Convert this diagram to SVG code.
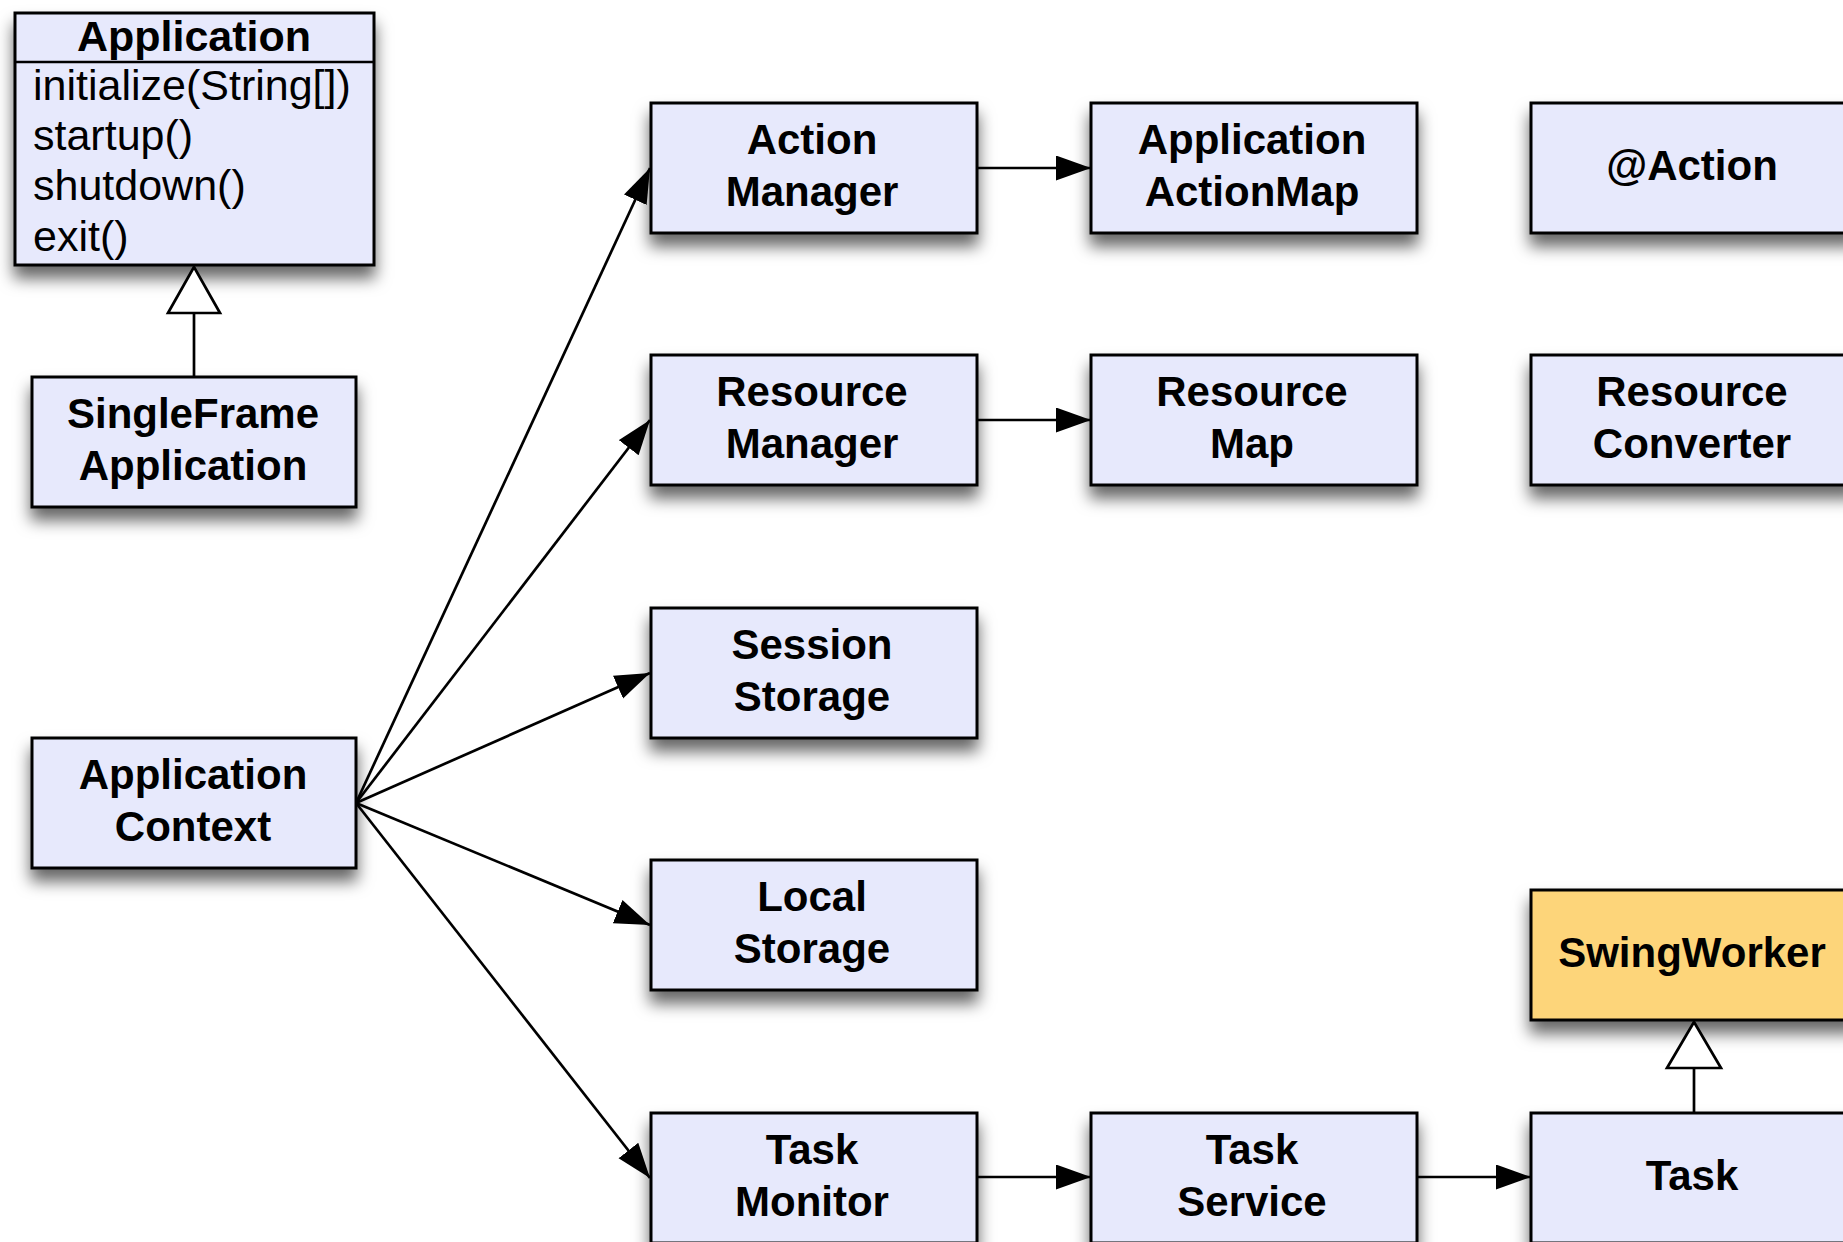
<svg xmlns="http://www.w3.org/2000/svg" width="1843" height="1242" viewBox="0 0 1843 1242">
  <defs>
    <filter id="shadow" x="-15%" y="-25%" width="130%" height="180%">
      <feDropShadow dx="0" dy="12" stdDeviation="8" flood-color="#000" flood-opacity="0.6"/>
    </filter>
    <marker id="arrow" markerUnits="userSpaceOnUse" markerWidth="36" markerHeight="26" refX="35" refY="12.5" orient="auto">
      <path d="M0,0 L35,12.5 L0,25 z" fill="#000"/>
    </marker>
  </defs>
  <style>
    .box { fill: #E7E9FC; stroke: #000; stroke-width: 3; filter: url(#shadow); }
    .ext { fill: #FDD57A; }
    .lbl { font-family: "Liberation Sans", Arial, Helvetica, sans-serif; font-size: 42px; font-weight: bold; text-anchor: middle; fill: #000; }
    .ttl { font-family: "Liberation Sans", Arial, Helvetica, sans-serif; font-size: 43px; font-weight: bold; text-anchor: middle; fill: #000; }
    .op { font-family: "Liberation Sans", Arial, Helvetica, sans-serif; font-size: 43px; fill: #000; }
    .edge { stroke: #000; stroke-width: 2.7; fill: none; marker-end: url(#arrow); }
    .gen { stroke: #000; stroke-width: 2.7; fill: none; }
    .tri { fill: #fff; stroke: #000; stroke-width: 2.7; }
  </style>
  <rect width="1843" height="1242" fill="#fff"/>

  <!-- connectors -->
  <g id="connectors">
    <line class="edge" x1="356" y1="803" x2="650" y2="168"/>
    <line class="edge" x1="356" y1="803" x2="650" y2="420"/>
    <line class="edge" x1="356" y1="803" x2="650" y2="673"/>
    <line class="edge" x1="356" y1="803" x2="650" y2="925"/>
    <line class="edge" x1="356" y1="803" x2="650" y2="1178"/>
    <line class="edge" x1="977" y1="168" x2="1091" y2="168"/>
    <line class="edge" x1="977" y1="420" x2="1091" y2="420"/>
    <line class="edge" x1="977" y1="1177" x2="1091" y2="1177"/>
    <line class="edge" x1="1417" y1="1177" x2="1531" y2="1177"/>
    <!-- generalization: SingleFrameApplication -> Application -->
    <line class="gen" x1="194" y1="313" x2="194" y2="377"/>
    <!-- generalization: Task -> SwingWorker -->
    <line class="gen" x1="1694" y1="1068" x2="1694" y2="1113"/>
  </g>

  <g id="Application">
    <rect class="box" x="15" y="13" width="359" height="252"/>
    <line x1="15" y1="62" x2="374" y2="62" stroke="#000" stroke-width="2.5"/>
    <text class="ttl" x="194" y="51">Application</text>
    <text class="op" x="33" y="100">initialize(String[])</text>
    <text class="op" x="33" y="150">startup()</text>
    <text class="op" x="33" y="200">shutdown()</text>
    <text class="op" x="33" y="251">exit()</text>
  </g>

  <g id="SingleFrameApplication">
    <rect class="box" x="32" y="377" width="324" height="130"/>
    <text class="lbl" x="193" y="428">SingleFrame</text>
    <text class="lbl" x="193" y="480">Application</text>
  </g>

  <g id="ApplicationContext">
    <rect class="box" x="32" y="738" width="324" height="130"/>
    <text class="lbl" x="193" y="789">Application</text>
    <text class="lbl" x="193" y="841">Context</text>
  </g>

  <g id="ActionManager">
    <rect class="box" x="651" y="103" width="326" height="130"/>
    <text class="lbl" x="812" y="154">Action</text>
    <text class="lbl" x="812" y="206">Manager</text>
  </g>

  <g id="ResourceManager">
    <rect class="box" x="651" y="355" width="326" height="130"/>
    <text class="lbl" x="812" y="406">Resource</text>
    <text class="lbl" x="812" y="458">Manager</text>
  </g>

  <g id="SessionStorage">
    <rect class="box" x="651" y="608" width="326" height="130"/>
    <text class="lbl" x="812" y="659">Session</text>
    <text class="lbl" x="812" y="711">Storage</text>
  </g>

  <g id="LocalStorage">
    <rect class="box" x="651" y="860" width="326" height="130"/>
    <text class="lbl" x="812" y="911">Local</text>
    <text class="lbl" x="812" y="963">Storage</text>
  </g>

  <g id="TaskMonitor">
    <rect class="box" x="651" y="1113" width="326" height="130"/>
    <text class="lbl" x="812" y="1164">Task</text>
    <text class="lbl" x="812" y="1216">Monitor</text>
  </g>

  <g id="ApplicationActionMap">
    <rect class="box" x="1091" y="103" width="326" height="130"/>
    <text class="lbl" x="1252" y="154">Application</text>
    <text class="lbl" x="1252" y="206">ActionMap</text>
  </g>

  <g id="ResourceMap">
    <rect class="box" x="1091" y="355" width="326" height="130"/>
    <text class="lbl" x="1252" y="406">Resource</text>
    <text class="lbl" x="1252" y="458">Map</text>
  </g>

  <g id="TaskService">
    <rect class="box" x="1091" y="1113" width="326" height="130"/>
    <text class="lbl" x="1252" y="1164">Task</text>
    <text class="lbl" x="1252" y="1216">Service</text>
  </g>

  <g id="ActionAnnotation">
    <rect class="box" x="1531" y="103" width="326" height="130"/>
    <text class="lbl" x="1692" y="180">@Action</text>
  </g>

  <g id="ResourceConverter">
    <rect class="box" x="1531" y="355" width="326" height="130"/>
    <text class="lbl" x="1692" y="406">Resource</text>
    <text class="lbl" x="1692" y="458">Converter</text>
  </g>

  <g id="SwingWorker">
    <rect class="box ext" x="1531" y="890" width="326" height="130"/>
    <text class="lbl" x="1692" y="967">SwingWorker</text>
  </g>

  <g id="Task">
    <rect class="box" x="1531" y="1113" width="326" height="130"/>
    <text class="lbl" x="1692" y="1190">Task</text>
  </g>

  <!-- hollow generalization heads, drawn over the boxes' shadows -->
  <polygon class="tri" points="194,267 168,313 220,313"/>
  <polygon class="tri" points="1694,1022 1667,1068 1721,1068"/>
</svg>
